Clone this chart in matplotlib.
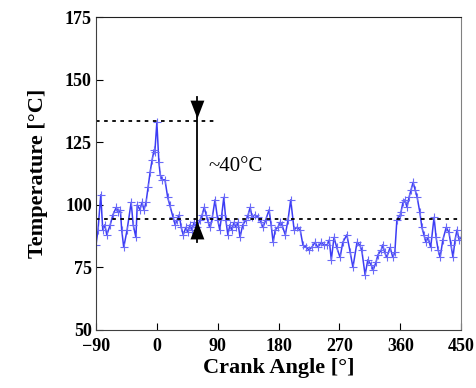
import matplotlib
matplotlib.use('Agg')
import matplotlib.pyplot as plt
import numpy as np

# crank angle [deg] and temperature [degC]
angle = [-90, -87, -83, -80, -77, -74, -69, -65, -60, -57, -54, -52, -49, -44, -38, -35,
         -31, -29, -25, -22, -19, -16, -13, -10, -7, -4, -3, 0, 3, 5, 8, 12,
         16, 19, 24, 27, 30, 33, 36, 39, 43, 46, 49, 52, 55, 59, 64, 67,
         70, 73, 76, 79, 82, 86, 90, 93, 96, 99, 102, 105, 108, 111, 114, 117,
         120, 123, 127, 132, 135, 138, 141, 145, 150, 154, 157, 161, 166, 169, 172, 175,
         179, 182, 185, 190, 194, 198, 203, 207, 212, 216, 221, 225, 229, 234, 238, 243,
         247, 252, 255, 258, 262, 266, 271, 275, 281, 286, 290, 296, 300, 303, 308, 312,
         317, 320, 324, 327, 332, 334, 337, 340, 345, 349, 352, 355, 360, 361, 364, 367,
         370, 373, 376, 379, 382, 385, 389, 392, 395, 398, 401, 405, 410, 413, 416, 419,
         423, 428, 432, 435, 438, 441, 444, 447, 450]
temp = [84, 90, 104, 90, 92, 88, 92, 96, 99, 97, 98, 90, 83, 90, 101, 92,
        87, 100, 98, 101, 98, 101, 107, 113, 118, 122, 121, 133, 117, 112, 110, 110,
        103, 100, 95, 92, 94, 96, 91, 88, 91, 89, 92, 90, 93, 91, 94, 96,
        99, 96, 93, 91, 95, 102, 94, 90, 96, 103, 94, 88, 92, 90, 93, 91,
        93, 87, 92, 94, 96, 99, 95, 96, 95, 93, 91, 94, 98, 92, 85, 90,
        91, 93, 92, 88, 94, 102, 90, 91, 90, 84, 83, 82, 83, 85, 83, 85,
        84, 84, 86, 78, 87, 83, 79, 85, 88, 81, 75, 85, 84, 82, 72, 78,
        76, 74, 77, 80, 82, 84, 81, 79, 83, 79, 81, 94, 96, 97, 101, 102,
        99, 103, 106, 109, 106, 103, 97, 91, 88, 85, 87, 83, 95, 87, 82, 79,
        86, 91, 89, 84, 79, 86, 90, 86, 87]

t_max = 133.3
t_mean = 94.5
arrow_x = 60
xticks = [-90, 0, 90, 180, 270, 360, 450]
yticks = [50, 75, 100, 125, 150, 175]

plt.rcParams['font.family'] = ['Liberation Serif', 'DejaVu Serif']

fig = plt.figure(figsize=(4.76, 3.88), dpi=100)
ax = fig.add_axes([0.2017, 0.1495, 0.767, 0.8065])

ax.plot(angle, temp, color='#3c3cf5', lw=1.1, marker='+', ms=6, mew=0.8,
        markeredgecolor='#6a6af8')

ax.plot([-90, 88], [t_max, t_max], color='black', ls=(0, (2, 2.5)), lw=1.3)
ax.axhline(t_mean, color='black', ls=(0, (2, 2.5)), lw=1.3)

# double arrow showing the temperature swing
ax.plot([arrow_x, arrow_x], [85, 143], color='black', lw=1.3)
head = dict(arrowstyle='-|>,head_width=0.5,head_length=1.3', color='black', lw=0)
ax.annotate('', xy=(arrow_x, t_max), xytext=(arrow_x, t_max + 8), arrowprops=head)
ax.annotate('', xy=(arrow_x, t_mean), xytext=(arrow_x, t_mean - 8), arrowprops=head)
ax.text(77, 115.5, '~40\u00b0C', fontsize=15, va='center', ha='left')

ax.set_xlim(-90, 450)
ax.set_ylim(50, 175)
ax.set_xticks(xticks)
ax.set_yticks(yticks)
ax.tick_params(direction='in', length=5, width=0.8, labelsize=13, pad=3)
ax.tick_params(axis='x', pad=6)
for lab in ax.get_xticklabels() + ax.get_yticklabels():
    lab.set_fontweight('bold')

ax.set_xlabel('Crank Angle [\u00b0]', fontsize=16, fontweight='bold', labelpad=2)
ax.set_ylabel('Temperature [\u00b0C]', fontsize=16, fontweight='bold', labelpad=12)

ax.spines['left'].set_color('#404040')
ax.spines['bottom'].set_color('#404040')
ax.spines['right'].set_color('#808080')
ax.spines['top'].set_color('#202020')

fig.savefig('out.png', dpi=100)
